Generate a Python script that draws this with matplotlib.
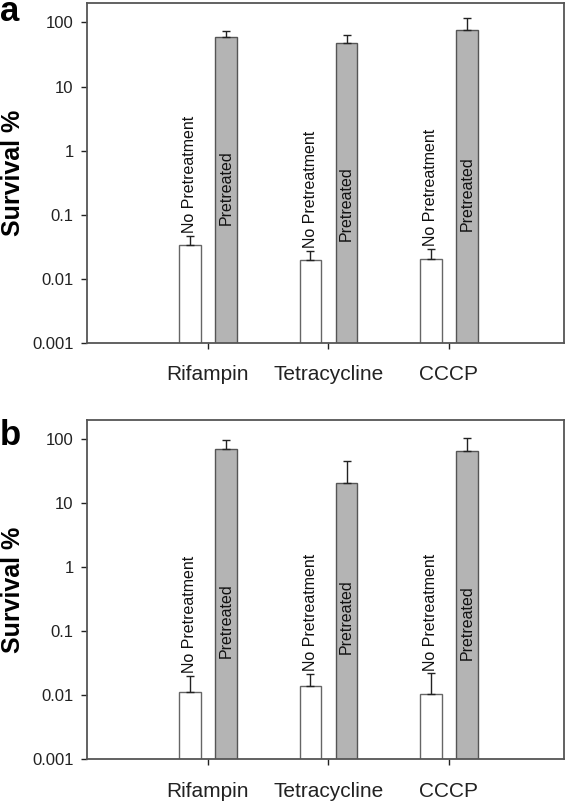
import numpy as np
import matplotlib
matplotlib.use("Agg")
import matplotlib.pyplot as plt

plt.rcParams['font.family'] = ['Liberation Sans', 'DejaVu Sans']

categories = ['Rifampin', 'Tetracycline', 'CCCP']
yticks = [0.001, 0.01, 0.1, 1, 10, 100]
ytick_labels = ['0.001', '0.01', '0.1', '1', '10', '100']

# panel a
nopre_a = [0.0335, 0.0197, 0.0205]
nopre_err_a = [0.0131, 0.0072, 0.0087]
pre_a = [59.7, 47.6, 77.6]
pre_err_a = [14.4, 15.9, 39.2]

# panel b
nopre_b = [0.0114, 0.0138, 0.0104]
nopre_err_b = [0.0086, 0.0077, 0.0116]
pre_b = [69.1, 20.9, 64.3]
pre_err_b = [26.2, 25.1, 40.6]

# where the "Pretreated" text sits inside the grey bars (layout only)
pre_text_a = [0.26, 0.15, 0.21]
pre_text_b = [0.146, 0.17, 0.134]

fig = plt.figure(figsize=(5.66, 8.01), dpi=100)
ax_a = fig.add_axes([0.1545, 0.572, 0.842, 0.424])
ax_b = fig.add_axes([0.1545, 0.052, 0.842, 0.424])

def draw_panel(ax, nopre, nopre_err, pre, pre_err, pre_text):
    x = np.arange(1, len(categories) + 1)
    w = 0.18
    off = 0.15
    ax.set_yscale('log')
    ax.bar(x - off, nopre, w, color='white', edgecolor='#666666', linewidth=1.0, zorder=2)
    ax.bar(x + off, pre, w, color='#b4b4b4', edgecolor='#555555', linewidth=1.0, zorder=2)
    ax.errorbar(x - off, nopre, yerr=[np.zeros(len(x)), nopre_err], fmt='none',
                ecolor='#222222', elinewidth=1.0, capsize=3, capthick=1.0, zorder=3)
    ax.errorbar(x + off, pre, yerr=[np.zeros(len(x)), pre_err], fmt='none',
                ecolor='#222222', elinewidth=1.0, capsize=3, capthick=1.0, zorder=3)
    for xi, v, e in zip(x, nopre, nopre_err):
        ax.annotate('No Pretreatment', (xi - off, v + e), xytext=(0, 2),
                    textcoords='offset points', rotation=90, ha='center', va='bottom',
                    fontsize=11.5, color='#111111')
    for xi, ty in zip(x, pre_text):
        ax.text(xi + off, ty, 'Pretreated', rotation=90, ha='center', va='center',
                fontsize=11.5, color='#111111', zorder=4)
    ax.set_xlim(0, 3.955)
    ax.set_ylim(0.001, 200)
    ax.set_yticks(yticks, ytick_labels)
    ax.minorticks_off()
    ax.set_xticks(x, categories)
    ax.tick_params(axis='y', labelsize=12, length=4, width=1, pad=6, colors='#222222')
    ax.tick_params(axis='x', labelsize=15, length=4, width=1, pad=12, colors='#222222')
    for s in ax.spines.values():
        s.set_color('#555555')
        s.set_linewidth(1.3)
    ax.set_ylabel('Survival %', fontsize=18, fontweight='bold')
    ax.yaxis.set_label_coords(-0.13, 0.5)

draw_panel(ax_a, nopre_a, nopre_err_a, pre_a, pre_err_a, pre_text_a)
draw_panel(ax_b, nopre_b, nopre_err_b, pre_b, pre_err_b, pre_text_b)

fig.text(0.0, 0.974, 'a', fontsize=25, fontweight='bold', va='baseline', ha='left')
fig.text(0.0, 0.4444, 'b', fontsize=25, fontweight='bold', va='baseline', ha='left')

fig.savefig('out.png', dpi=100)
